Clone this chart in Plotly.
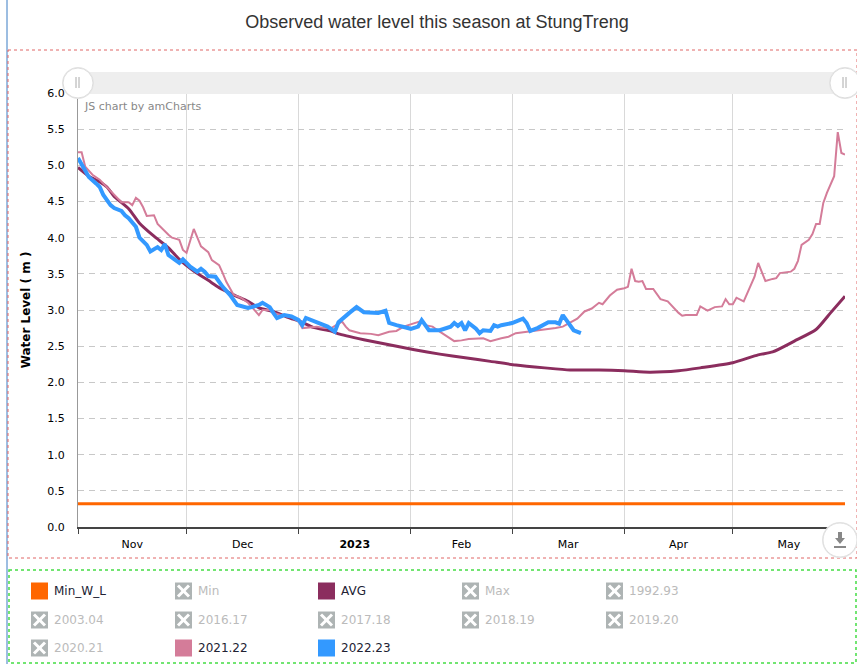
import pandas as pd
import plotly.graph_objects as go

# --- data (day offsets from 1 Nov 2022) ---
start_date = "2022-11-01"
end_date = "2023-06-01"

min_wl_days = [0, 212]
min_wl_vals = [0.32, 0.32]

avg_days = [0, 3, 6, 8, 10, 14, 17, 21, 25, 28, 32, 36, 39, 43, 47, 50, 54, 58, 62, 65,
            70, 72, 79, 86, 93, 100, 107, 114, 121, 129, 136, 144, 151, 158, 166, 172,
            181, 188, 192, 198, 204, 208, 212]
avg_vals = [4.97, 4.85, 4.77, 4.70, 4.57, 4.40, 4.20, 4.02, 3.86, 3.70, 3.54, 3.41, 3.31,
            3.21, 3.12, 3.03, 2.98, 2.90, 2.83, 2.76, 2.71, 2.67, 2.59, 2.52, 2.45, 2.39,
            2.34, 2.29, 2.24, 2.20, 2.17, 2.17, 2.16, 2.14, 2.16, 2.20, 2.27, 2.38, 2.42,
            2.57, 2.73, 2.96, 3.19]

y2122_days = [0, 1, 2, 4, 6, 8, 10, 12, 14, 15, 16, 17, 18, 19, 21, 22, 25, 26, 28, 29,
              30, 32, 34, 36, 37, 39, 40, 41, 43, 45, 47, 48, 50, 51, 53, 54, 56, 59, 61, 62,
              64, 66, 68, 70, 73, 74, 75, 77, 78, 81, 83, 86, 88, 90, 93, 95, 96, 98, 100, 102,
              104, 106, 108, 112, 114, 117, 119, 121, 124, 127, 130, 132, 134, 135, 137, 138,
              140, 142, 144, 145, 147, 149, 151, 152, 153, 154, 155, 156, 157, 159, 161, 163,
              166, 167, 168, 171, 172, 174, 176, 178, 179, 180, 181, 182, 184, 185, 187, 188,
              189, 190, 192, 193, 194, 197, 198, 199, 200, 202, 203, 204, 205, 206, 207, 208,
              209, 210, 211, 212]
y2122_vals = [5.18, 5.18, 4.98, 4.87, 4.80, 4.70, 4.59, 4.49, 4.49, 4.45, 4.55, 4.51, 4.42,
              4.30, 4.31, 4.19, 4.04, 4.00, 3.97, 3.83, 3.79, 4.12, 3.88, 3.80, 3.69, 3.62,
              3.51, 3.39, 3.21, 3.17, 3.10, 3.04, 2.93, 3.00, 3.00, 2.96, 2.93, 2.90, 2.84,
              2.75, 2.76, 2.77, 2.75, 2.75, 2.84, 2.77, 2.72, 2.70, 2.68, 2.67, 2.65, 2.70,
              2.71, 2.77, 2.82, 2.85, 2.79, 2.77, 2.70, 2.64, 2.57, 2.58, 2.60, 2.61, 2.57,
              2.61, 2.63, 2.68, 2.70, 2.71, 2.74, 2.75, 2.77, 2.80, 2.86, 2.88, 2.98, 3.02,
              3.10, 3.08, 3.20, 3.28, 3.30, 3.32, 3.57, 3.40, 3.39, 3.40, 3.29, 3.29, 3.15,
              3.12, 2.96, 2.92, 2.93, 2.93, 3.05, 2.99, 3.04, 3.05, 3.15, 3.08, 3.08, 3.17,
              3.12, 3.24, 3.46, 3.65, 3.53, 3.40, 3.43, 3.44, 3.51, 3.53, 3.57, 3.68, 3.90,
              3.97, 4.05, 4.19, 4.19, 4.48, 4.62, 4.74, 4.85, 5.46, 5.17, 5.15]

y2223_days = [0, 2, 3, 5, 6, 7, 9, 10, 12, 13, 14, 16, 17, 19, 20, 22, 23, 24, 25, 28,
              29, 31, 33, 34, 35, 36, 38, 40, 42, 44, 47, 48, 50, 51, 53, 54, 55, 57, 59, 61,
              62, 63, 66, 69, 71, 72, 75, 77, 79, 81, 83, 85, 86, 88, 92, 94, 95, 97, 100, 103,
              104, 105, 106, 107, 108, 110, 111, 112, 114, 115, 116, 117, 120, 122, 123, 124,
              125, 127, 130, 132, 133, 134, 135, 137, 139]
y2223_vals = [5.10, 4.94, 4.84, 4.75, 4.70, 4.59, 4.45, 4.41, 4.37, 4.31, 4.27, 4.15, 4.00,
              3.90, 3.81, 3.87, 3.83, 3.91, 3.76, 3.65, 3.70, 3.60, 3.53, 3.57, 3.53, 3.47,
              3.46, 3.32, 3.21, 3.07, 3.03, 3.04, 3.07, 3.10, 3.04, 2.96, 2.89, 2.93, 2.91,
              2.86, 2.79, 2.89, 2.83, 2.77, 2.70, 2.83, 2.96, 3.04, 2.97, 2.97, 2.96, 2.99,
              2.82, 2.79, 2.74, 2.77, 2.86, 2.72, 2.72, 2.77, 2.82, 2.78, 2.82, 2.72, 2.82,
              2.74, 2.68, 2.72, 2.71, 2.79, 2.77, 2.79, 2.82, 2.86, 2.88, 2.82, 2.71, 2.75,
              2.83, 2.83, 2.81, 2.93, 2.86, 2.72, 2.68]

month_labels = ["Nov", "Dec", "<b>2023</b>", "Feb", "Mar", "Apr", "May"]

legend_names = ["Min_W_L", "Min", "AVG", "Max", "1992.93",
                "2003.04", "2016.17", "2017.18", "2018.19", "2019.20",
                "2020.21", "2021.22", "2022.23"]
legend_colors = {"Min_W_L": "#FF6600", "AVG": "#8B2D5E",
                 "2021.22": "#D47C99", "2022.23": "#3399FF"}

# --- figure geometry (pixels) ---
W, H = 857, 664
L, R, T, B = 78, 845, 93, 527


def px(x):
    return (x - L) / (R - L)


def py(y):
    return (B - y) / (B - T)


def to_dates(days):
    return pd.Timestamp(start_date) + pd.to_timedelta(days, unit="D")


month_starts = pd.date_range(start_date, end_date, freq="MS")
month_mids = [a + (b - a) / 2 for a, b in zip(month_starts[:-1], month_starts[1:])]

fig = go.Figure()
series = [
    ("Min_W_L", min_wl_days, min_wl_vals, 3, "linear"),
    ("AVG", avg_days, avg_vals, 3, "spline"),
    ("2021.22", y2122_days, y2122_vals, 2, "linear"),
    ("2022.23", y2223_days, y2223_vals, 4, "linear"),
]
for name, d, v, w, shape in series:
    fig.add_trace(go.Scatter(x=to_dates(d), y=v, mode="lines", name=name,
                             line=dict(color=legend_colors[name], width=w, shape=shape,
                                       smoothing=0.6),
                             showlegend=False))

shapes = []
annotations = []

# outer borders
shapes.append(dict(type="line", xref="paper", yref="paper", x0=px(7), x1=px(7),
                   y0=py(0), y1=py(H), line=dict(color="#3B7DC4", width=1)))
shapes.append(dict(type="rect", xref="paper", yref="paper", x0=px(8), x1=px(857),
                   y0=py(50), y1=py(558), line=dict(color="#E06666", width=1, dash="dot")))
shapes.append(dict(type="rect", xref="paper", yref="paper", x0=px(9), x1=px(856),
                   y0=py(570), y1=py(663), line=dict(color="#44DD44", width=1.5, dash="dot")))

# scrollbar
shapes.append(dict(type="rect", xref="paper", yref="paper", x0=px(L), x1=px(R),
                   y0=py(94), y1=py(72), fillcolor="#EEEEEE", line=dict(width=0), layer="above"))
for cx in (L, R):
    shapes.append(dict(type="circle", xref="paper", yref="paper", x0=px(cx - 16), x1=px(cx + 16),
                       y0=py(99), y1=py(67), fillcolor="#E6E6E6", line=dict(width=0), layer="above"))
    shapes.append(dict(type="circle", xref="paper", yref="paper", x0=px(cx - 15), x1=px(cx + 15),
                       y0=py(98), y1=py(68), fillcolor="#FFFFFF", line=dict(color="#DDDDDD", width=1),
                       layer="above"))
    for dx in (-2, 1):
        shapes.append(dict(type="line", xref="paper", yref="paper", x0=px(cx + dx), x1=px(cx + dx),
                           y0=py(77), y1=py(88), line=dict(color="#AAAAAA", width=1), layer="above"))

# download button
shapes.append(dict(type="circle", xref="paper", yref="paper", x0=px(822), x1=px(858),
                   y0=py(558), y1=py(522), fillcolor="#E8E8E8", line=dict(width=0), layer="above"))
shapes.append(dict(type="circle", xref="paper", yref="paper", x0=px(823), x1=px(857),
                   y0=py(557), y1=py(523), fillcolor="#FFFFFF", line=dict(color="#DDDDDD", width=1),
                   layer="above"))
arrow = (f"M {px(838)} {py(532)} L {px(842)} {py(532)} L {px(842)} {py(538)} "
         f"L {px(845)} {py(538)} L {px(840)} {py(544)} L {px(835)} {py(538)} "
         f"L {px(838)} {py(538)} Z")
shapes.append(dict(type="path", xref="paper", yref="paper", path=arrow,
                   fillcolor="#888888", line=dict(width=0), layer="above"))
shapes.append(dict(type="line", xref="paper", yref="paper", x0=px(834), x1=px(846),
                   y0=py(547), y1=py(547), line=dict(color="#888888", width=2), layer="above"))

annotations.append(dict(text="JS chart by amCharts", xref="paper", yref="paper",
                        x=px(82), y=py(106), xanchor="left", yanchor="middle", showarrow=False,
                        font=dict(family="Verdana, DejaVu Sans", size=11, color="#888888")))

# legend grid
col_x = [31, 175, 318, 462, 606]
row_y = [591, 620, 648]
for i, name in enumerate(legend_names):
    x0 = col_x[i % 5]
    yc = row_y[i // 5]
    active = name in legend_colors
    shapes.append(dict(type="rect", xref="paper", yref="paper", x0=px(x0), x1=px(x0 + 17),
                       y0=py(yc + 8.5), y1=py(yc - 8.5),
                       fillcolor=legend_colors.get(name, "#AEB4B4"), line=dict(width=0)))
    if not active:
        for a, b in ((3, 14), (14, 3)):
            shapes.append(dict(type="line", xref="paper", yref="paper",
                               x0=px(x0 + 3), x1=px(x0 + 14),
                               y0=py(yc - 8.5 + a), y1=py(yc - 8.5 + b),
                               line=dict(color="#FFFFFF", width=3)))
    annotations.append(dict(text=name, xref="paper", yref="paper", x=px(x0 + 21), y=py(yc),
                            xanchor="left", yanchor="middle", showarrow=False,
                            font=dict(family="Verdana, DejaVu Sans", size=12,
                                      color="#222233" if active else "#BBBBBB")))

fig.update_layout(
    width=W, height=H, autosize=False,
    margin=dict(l=L, r=W - R, t=T, b=H - B),
    paper_bgcolor="white", plot_bgcolor="white",
    title=dict(text="Observed water level this season at StungTreng", x=0.51, xanchor="center",
               y=1 - 22 / H, yanchor="middle",
               font=dict(family="Liberation Sans, Arial", size=18, color="#333333")),
    shapes=shapes, annotations=annotations,
    font=dict(family="Verdana, DejaVu Sans", size=11, color="#000000"),
)

fig.update_xaxes(
    type="date", range=[start_date, end_date],
    tickmode="array", tickvals=month_mids, ticktext=month_labels,
    ticks="", showgrid=False, ticklabelstandoff=6,
    showline=True, linecolor="#444444", linewidth=2,
    tickfont=dict(family="Verdana, DejaVu Sans", size=11, color="#000000"),
    minor=dict(tickmode="array", tickvals=month_starts, showgrid=True, gridcolor="#D9D9D9",
               gridwidth=1, ticks="outside", ticklen=5, tickcolor="#444444", tickwidth=1),
    zeroline=False,
)
fig.update_yaxes(
    range=[0, 6], dtick=0.5, tick0=0, tickformat=".1f",
    showgrid=True, gridcolor="#C8C8C8", griddash="6px,5px", gridwidth=1,
    showline=True, linecolor="#999999", linewidth=1, zeroline=False,
    ticks="", ticklabelstandoff=10,
    tickfont=dict(family="Verdana, DejaVu Sans", size=11, color="#000000"),
    title=dict(text="<b>Water Level ( m )</b>", standoff=14,
               font=dict(family="Verdana, DejaVu Sans", size=12, color="#000000")),
)

fig.write_html("out.html", config={"displayModeBar": False},
               post_script="document.body.style.margin='0';document.body.style.overflow='hidden';")
